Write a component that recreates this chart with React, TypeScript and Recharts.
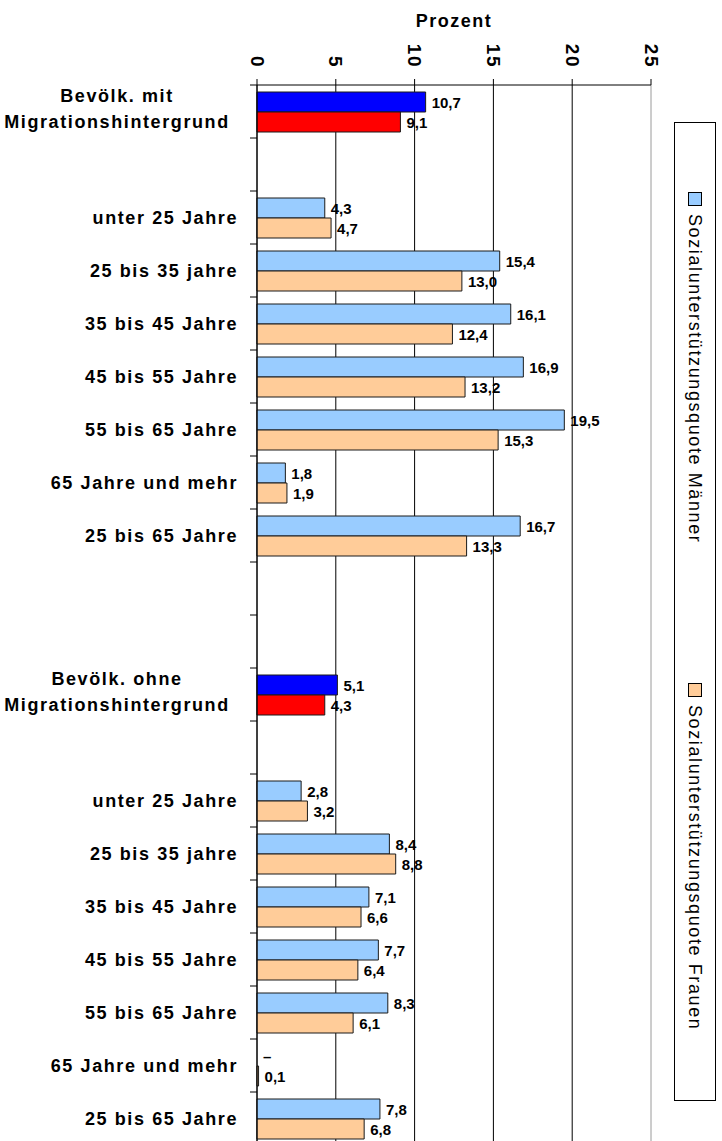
import React from 'react';
import { BarChart, Bar, XAxis, YAxis, CartesianGrid, LabelList, Cell, Legend } from 'recharts';

// ---------- data ----------
const kategorien: string[] = [
  'Bevölk. mit\nMigrationshintergrund',
  '',
  'unter 25 Jahre',
  '25 bis 35 jahre',
  '35 bis 45 Jahre',
  '45 bis 55 Jahre',
  '55 bis 65 Jahre',
  '65 Jahre und mehr',
  '25 bis 65 Jahre',
  '',
  '',
  'Bevölk. ohne\nMigrationshintergrund',
  '',
  'unter 25 Jahre',
  '25 bis 35 jahre',
  '35 bis 45 Jahre',
  '45 bis 55 Jahre',
  '55 bis 65 Jahre',
  '65 Jahre und mehr',
  '25 bis 65 Jahre',
];

const maennerWerte: (number | null)[] = [
  10.7, null, 4.3, 15.4, 16.1, 16.9, 19.5, 1.8, 16.7, null,
  null, 5.1, null, 2.8, 8.4, 7.1, 7.7, 8.3, null, 7.8,
];
const frauenWerte: (number | null)[] = [
  9.1, null, 4.7, 13.0, 12.4, 13.2, 15.3, 1.9, 13.3, null,
  null, 4.3, null, 3.2, 8.8, 6.6, 6.4, 6.1, 0.1, 6.8,
];
const maennerBeschriftung: string[] = [
  '10,7', '', '4,3', '15,4', '16,1', '16,9', '19,5', '1,8', '16,7', '',
  '', '5,1', '', '2,8', '8,4', '7,1', '7,7', '8,3', '–', '7,8',
];
const frauenBeschriftung: string[] = [
  '9,1', '', '4,7', '13,0', '12,4', '13,2', '15,3', '1,9', '13,3', '',
  '', '4,3', '', '3,2', '8,8', '6,6', '6,4', '6,1', '0,1', '6,8',
];
const achsenTicks: number[] = [0, 5, 10, 15, 20, 25];
const serienNamen: string[] = ['Sozialunterstützungsquote Männer', 'Sozialunterstützungsquote Frauen'];
const achsenTitel = 'Prozent';

// ---------- layout / style ----------
const CHART_W = 722;
const CHART_H = 1160;
const Y_AXIS_W = 257;
const X_AXIS_H = 85;
const M_RIGHT = 71;
const M_BOTTOM = 15;
const PLOT_LEFT = Y_AXIS_W;
const PLOT_RIGHT = CHART_W - M_RIGHT;
const BAND = (CHART_H - M_BOTTOM - X_AXIS_H) / kategorien.length;
const FONT = '"Liberation Sans", Arial, Helvetica, sans-serif';

const FARBE_M = '#99CCFF';
const FARBE_F = '#FFCC99';
const FARBE_M_GESAMT = '#0000FF';
const FARBE_F_GESAMT = '#FF0000';
const RAND = '#1a1a1a';

const istGesamt = (i: number) => kategorien[i].startsWith('Bevölk');

const data = kategorien.map((_, i) => ({
  id: i,
  maenner: maennerWerte[i],
  frauen: frauenWerte[i],
  maennerText: maennerBeschriftung[i],
  frauenText: frauenBeschriftung[i],
  // text of the Männer row when that row has no bar of its own
  maennerOhneBalken: maennerWerte[i] == null ? maennerBeschriftung[i] : '',
}));

const XTick = (props: any) => {
  const { x, payload } = props;
  const yEnd = 68;
  return (
    <text
      x={x}
      y={yEnd}
      transform={`rotate(90 ${x} ${yEnd})`}
      textAnchor="end"
      dominantBaseline="central"
      fontSize={19}
      fontWeight="bold"
      letterSpacing={1.5}
      fill="#000"
    >
      {payload.value}
    </text>
  );
};

const YTick = (props: any) => {
  const { y, payload } = props;
  const i = Number(payload.value);
  const label = kategorien[i] ?? '';
  const lines = label.split('\n');
  const top = y - BAND / 2;
  const bottom = y + BAND / 2;
  return (
    <g>
      <line x1={PLOT_LEFT - 7} x2={PLOT_LEFT} y1={top} y2={top} stroke="#000" />
      {i === kategorien.length - 1 && (
        <line x1={PLOT_LEFT - 7} x2={PLOT_LEFT} y1={bottom} y2={bottom} stroke="#000" />
      )}
      {lines.length > 1
        ? lines.map((ln, k) => (
            <text
              key={k}
              x={117}
              y={y - 9.5 + k * 25.5}
              textAnchor="middle"
              fontSize={18}
              fontWeight="bold"
              letterSpacing={1.6}
              fill="#000"
            >
              {ln}
            </text>
          ))
        : label && (
            <text
              x={238}
              y={y + 6.5}
              textAnchor="end"
              fontSize={18}
              fontWeight="bold"
              letterSpacing={1.6}
              fill="#000"
            >
              {label}
            </text>
          )}
    </g>
  );
};

const geom = (p: any) => {
  const vb = p.viewBox ?? p;
  return {
    x: Number(vb.x ?? p.x),
    y: Number(vb.y ?? p.y),
    w: Number(vb.width ?? p.width),
    h: Number(vb.height ?? p.height),
  };
};

const renderWert = (p: any) => {
  const { x, y, w, h } = geom(p);
  if (!p.value) return null;
  return (
    <text
      x={x + w + 6}
      y={y + h / 2}
      dominantBaseline="central"
      fontSize={15}
      fontWeight="bold"
      fill="#000"
    >
      {p.value}
    </text>
  );
};

// label of the Männer sub-row drawn from the Frauen bar right below it
const renderWertDarueber = (p: any) => {
  const { x, y, h } = geom(p);
  if (!p.value) return null;
  return (
    <text
      x={x + 6}
      y={y - h / 2}
      dominantBaseline="central"
      fontSize={15}
      fontWeight="bold"
      fill="#000"
    >
      {p.value}
    </text>
  );
};

const LEGEND_W = 42;
const LEGEND_H = 979;
const legendOffsets = [70, 561];

const renderLegend = (props: any) => {
  const payload = props.payload ?? [];
  return (
    <svg width={LEGEND_W} height={LEGEND_H} style={{ display: 'block' }}>
      <rect x={0.5} y={0.5} width={LEGEND_W - 1} height={LEGEND_H - 1} fill="#fff" stroke="#000" />
      {payload.map((item: any, k: number) => {
        const idx = serienNamen.indexOf(item.value);
        const top = legendOffsets[idx >= 0 ? idx : k];
        const ty = top + 22;
        return (
          <g key={k}>
            <rect x={14.5} y={top + 0.5} width={13} height={13} fill={item.color} stroke="#000" />
            <text
              x={21}
              y={ty}
              transform={`rotate(90 21 ${ty})`}
              dominantBaseline="central"
              fontSize={18}
              letterSpacing={1.6}
              fill="#000"
            >
              {item.value}
            </text>
          </g>
        );
      })}
    </svg>
  );
};

export default function App() {
  return (
    <div
      style={{
        position: 'absolute',
        left: 0,
        top: 0,
        width: CHART_W,
        height: 1141,
        overflow: 'hidden',
        background: '#fff',
        fontFamily: FONT,
      }}
    >
      <BarChart
        width={CHART_W}
        height={CHART_H}
        data={data}
        layout="vertical"
        margin={{ top: 0, right: M_RIGHT, bottom: M_BOTTOM, left: 0 }}
        barCategoryGap={7}
        barGap={0}
      >
        <CartesianGrid
          horizontal={false}
          vertical={(p: any) => (
            <line
              key={p.key ?? `v-${p.index}`}
              x1={p.x1}
              y1={p.y1}
              x2={p.x2}
              y2={p.y2}
              stroke={p.x1 >= PLOT_RIGHT - 0.5 ? '#9a9a9a' : '#000'}
              strokeWidth={1}
            />
          )}
        />
        <XAxis
          type="number"
          orientation="top"
          domain={[0, 25]}
          ticks={achsenTicks}
          interval={0}
          height={X_AXIS_H}
          axisLine={{ stroke: '#000' }}
          tickLine={{ stroke: '#000' }}
          tickSize={6}
          tick={(p: any) => <XTick {...p} />}
          label={{
            value: achsenTitel,
            position: 'insideTop',
            offset: 14,
            style: { fontWeight: 'bold', fontSize: 18, letterSpacing: 1.5, fill: '#000' },
          }}
        />
        <YAxis
          type="category"
          dataKey="id"
          width={Y_AXIS_W}
          interval={0}
          axisLine={{ stroke: '#000' }}
          tickLine={false}
          tick={(p: any) => <YTick {...p} />}
        />
        <Legend
          layout="vertical"
          align="center"
          verticalAlign="middle"
          itemSorter={null as any}
          wrapperStyle={{ left: 674, top: 122, width: LEGEND_W, height: LEGEND_H }}
          content={renderLegend}
        />
        <Bar
          dataKey="maenner"
          name={serienNamen[0]}
          fill={FARBE_M}
          stroke={RAND}
          strokeWidth={1}
          isAnimationActive={false}
        >
          {data.map((_, i) => (
            <Cell key={`m-${i}`} fill={istGesamt(i) ? FARBE_M_GESAMT : FARBE_M} />
          ))}
          <LabelList dataKey="maennerText" content={renderWert} />
        </Bar>
        <Bar
          dataKey="frauen"
          name={serienNamen[1]}
          fill={FARBE_F}
          stroke={RAND}
          strokeWidth={1}
          isAnimationActive={false}
        >
          {data.map((_, i) => (
            <Cell key={`f-${i}`} fill={istGesamt(i) ? FARBE_F_GESAMT : FARBE_F} />
          ))}
          <LabelList dataKey="frauenText" content={renderWert} />
          <LabelList dataKey="maennerOhneBalken" content={renderWertDarueber} />
        </Bar>
      </BarChart>
    </div>
  );
}
